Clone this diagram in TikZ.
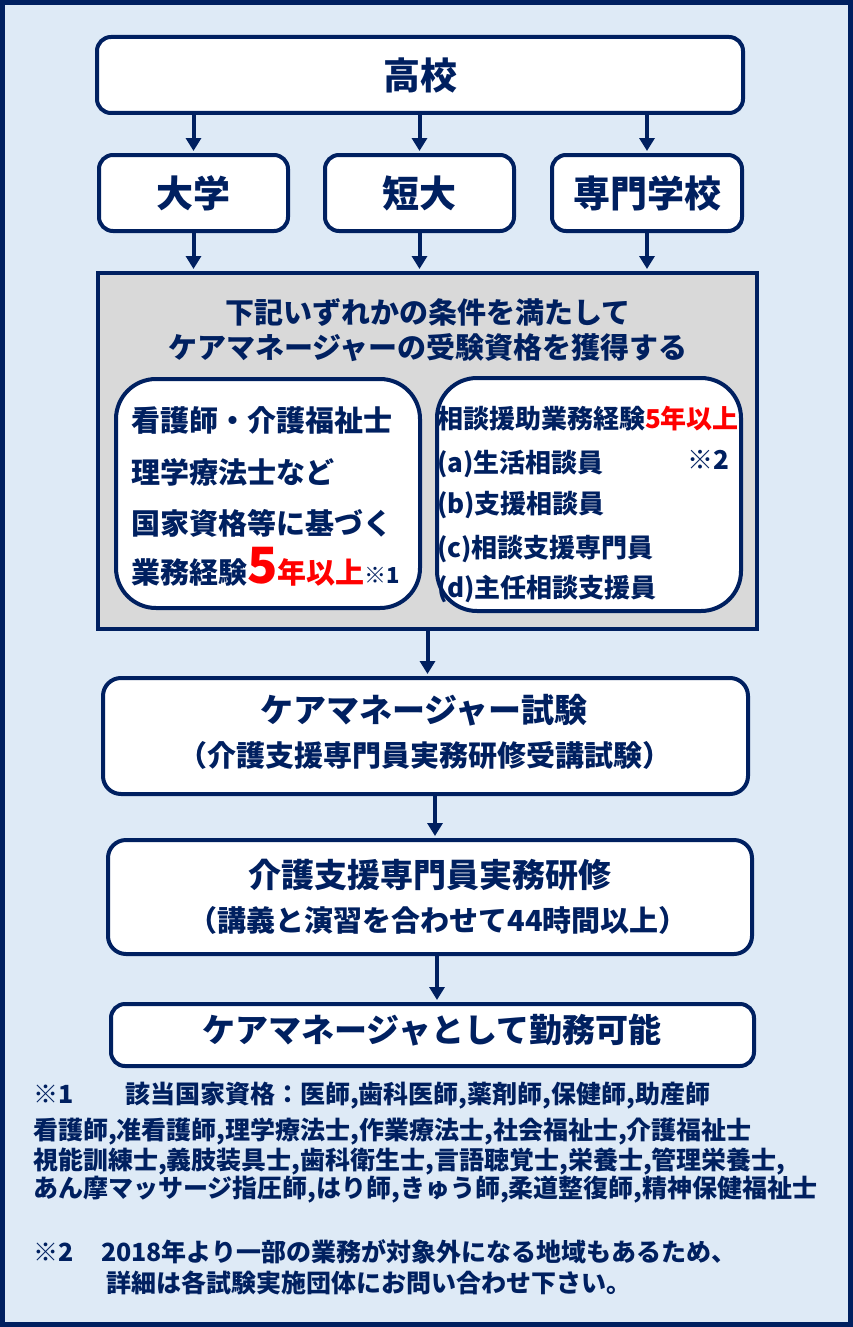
\documentclass[tikz,border=0pt]{standalone}
\usepackage{fontspec}
\setmainfont{Noto Sans CJK JP}
\usetikzlibrary{arrows.meta}
\definecolor{navy}{RGB}{0,32,96}
\definecolor{bgblue}{RGB}{222,234,246}
\definecolor{grayfill}{RGB}{217,217,217}
\definecolor{redtxt}{RGB}{255,0,0}
\newcommand\fsz[1]{\fontsize{#1}{#1}\selectfont\bfseries}
\begin{document}
\begin{tikzpicture}[x=1pt,y=-1pt,
  box/.style={draw=navy,line width=4pt,fill=white,rounded corners=14pt,inner sep=0pt,text=navy},
  arr/.style={draw=navy,line width=4pt,shorten >=2pt,-{Triangle[width=15pt,length=13pt]}},
  t/.style={text=navy,inner sep=0pt,outer sep=0pt}]
\useasboundingbox (0,0) rectangle (853,1327);
\node[draw=navy,line width=5pt,fill=bgblue,minimum width=848pt,minimum height=1322pt,inner sep=0pt] (frame) at (426.5,663.5) {};

% top boxes
\node[box,minimum width=646pt,minimum height=76pt] (koukou) at (420,75) {\fsz{37}高校};
\node[box,minimum width=189pt,minimum height=76pt] (daigaku) at (193.5,193) {\fsz{37}大学};
\node[box,minimum width=189pt,minimum height=76pt] (tandai) at (419.5,193) {\fsz{37}短大};
\node[box,minimum width=190pt,minimum height=76pt] (senmon) at (647,193) {\fsz{37}専門学校};

% gray box
\node[draw=navy,line width=4pt,fill=grayfill,minimum width=659pt,minimum height=356pt,inner sep=0pt] (gray) at (427.5,451) {};
\node[t,anchor=base] (g1) at (428,323) {\fsz{29}下記いずれかの条件を満たして};
\node[t,anchor=base] (g2) at (428,358) {\fsz{29}ケアマネージャーの受験資格を獲得する};

\node[box,rounded corners=40pt,minimum width=304pt,minimum height=229pt] (left) at (268,493.5) {};
\node[box,rounded corners=40pt,minimum width=304pt,minimum height=233pt] (right) at (589,494.5) {};

\node[t,anchor=base west] (l1) at (131,431) {\fsz{29}看護師・介護福祉士};
\node[t,anchor=base west] (l2) at (131,483) {\fsz{29}理学療法士など};
\node[t,anchor=base west] (l3) at (131,534) {\fsz{29}国家資格等に基づく};
\node[t,anchor=base west] (l4) at (131,583) {\fsz{29}業務経験\textcolor{redtxt}{\fsz{50}5\fsz{29}年以上}\fsz{22}※1};

\node[t,anchor=base west] (r1) at (437,428) {\fsz{26}相談援助業務経験\textcolor{redtxt}{5年以上}};
\node[t,anchor=base west] (r2) at (437,472) {\fsz{26}(a)生活相談員};
\node[t,anchor=base west] (r3) at (437,513) {\fsz{26}(b)支援相談員};
\node[t,anchor=base west] (r4) at (437,557) {\fsz{26}(c)相談支援専門員};
\node[t,anchor=base west] (r5) at (437,597) {\fsz{26}(d)主任相談支援員};
\node[t,anchor=base] (r6) at (708,469) {\fsz{26}※2};

% lower boxes
\node[box,rounded corners=18pt,minimum width=645pt,minimum height=116pt] (exam) at (425.5,736) {};
\node[t,anchor=base] (e1t) at (424,722.5) {\fsz{33}ケアマネージャー試験};
\node[t,anchor=base] (e2t) at (425,766) {\fsz{29}（介護支援専門員実務研修受講試験）};

\node[box,rounded corners=18pt,minimum width=644pt,minimum height=114pt] (kenshu) at (430,897) {};
\node[t,anchor=base] (k1t) at (430,887.5) {\fsz{33}介護支援専門員実務研修};
\node[t,anchor=base] (k2t) at (438,931) {\fsz{29}（講義と演習を合わせて44時間以上）};

\node[box,minimum width=643pt,minimum height=62pt] (kinmu) at (432.5,1035) {};
\node[t,anchor=base] (m1t) at (432,1042.5) {\fsz{33}ケアマネージャとして勤務可能};

% footnotes
\node[t,anchor=base west] (f1a) at (33,1103.5) {\fsz{25}※1};
\node[t,anchor=base west] (f1b) at (125,1103.5) {\fsz{25}該当国家資格：医師,歯科医師,薬剤師,保健師,助産師};
\node[t,anchor=base west] (f2) at (33,1139.5) {\fsz{25}看護師,准看護師,理学療法士,作業療法士,社会福祉士,介護福祉士};
\node[t,anchor=base west] (f3) at (33,1169.5) {\fsz{25}視能訓練士,義肢装具士,歯科衛生士,言語聴覚士,栄養士,管理栄養士,};
\node[t,anchor=base west] (f4) at (33,1197.5) {\fsz{25}あん摩マッサージ指圧師,はり師,きゅう師,柔道整復師,精神保健福祉士};
\node[t,anchor=base west] (f5a) at (33,1261.5) {\fsz{25}※2};
\node[t,anchor=base west] (f5b) at (101,1261.5) {\fsz{25}2018年より一部の業務が対象外になる地域もあるため、};
\node[t,anchor=base west] (f6) at (106,1292.5) {\fsz{25}詳細は各試験実施団体にお問い合わせ下さい。};

% arrows
\draw[arr] (koukou.south -| daigaku.north) -- (daigaku.north);
\draw[arr] (koukou.south -| tandai.north) -- (tandai.north);
\draw[arr] (koukou.south -| senmon.north) -- (senmon.north);
\draw[arr] (daigaku.south) -- (daigaku.south |- gray.north);
\draw[arr] (tandai.south) -- (tandai.south |- gray.north);
\draw[arr] (senmon.south) -- (senmon.south |- gray.north);
\draw[arr] (gray.south) -- (gray.south |- exam.north);
\coordinate (ea) at ([xshift=9.5pt]exam.south);
\draw[arr] (ea) -- (ea |- kenshu.north);
\coordinate (ka) at ([xshift=7pt]kenshu.south);
\draw[arr] (ka) -- (ka |- kinmu.north);
\end{tikzpicture}
\end{document}
